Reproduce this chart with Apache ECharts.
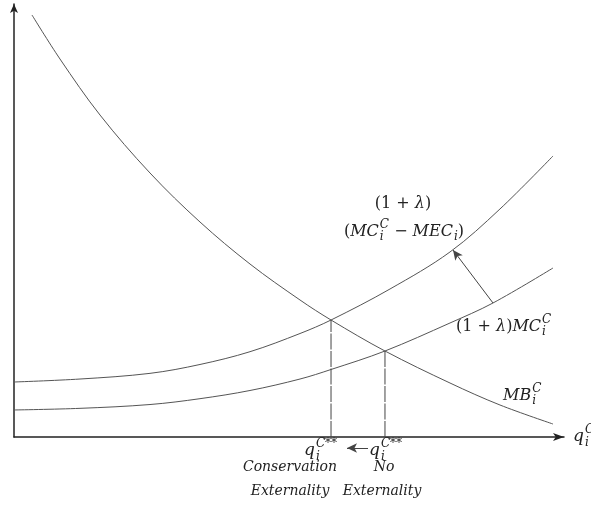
<!DOCTYPE html>
<html>
<head>
<meta charset="utf-8">
<script src="https://cdn.jsdelivr.net/npm/echarts@6/dist/echarts.min.js"></script>
<style>html,body{margin:0;padding:0;background:#fff}#c{width:591px;height:506px}</style>
</head>
<body>
<div id="c"></div>
<script>
// Curves (x: quantity, y: price), arbitrary units 0-100
const mbCurve = [[3.27,97.46],[8.36,87.30],[15.64,74.36],[24.73,60.97],[33.82,49.65],[42.91,39.95],[52.00,31.64],[57.64,27.02],[67.45,19.86],[79.27,12.47],[88.36,7.39],[98.00,3.00]];
const upperCurve = [[0,12.70],[12.00,13.39],[24.73,14.70],[33.82,16.75],[42.91,19.70],[52.00,23.90],[57.64,27.02],[68.36,34.18],[79.27,42.73],[88.36,52.66],[98.00,64.90]];
const lowerCurve = [[0,6.24],[12.00,6.62],[24.73,7.50],[33.82,8.85],[42.91,10.74],[52.00,13.39],[57.64,15.59],[67.45,19.86],[79.27,26.33],[87.09,30.95],[98.00,39.03]];
const qConservation = [57.64, 27.02];
const qNoExternality = [67.45, 19.86];
const shiftArrow = [[87.09,30.95],[79.82,43.19]];

const chart = echarts.init(document.getElementById('c'), null, {renderer:'canvas'});
const FONT = '"DejaVu Serif", serif';
const ctx = document.createElement('canvas').getContext('2d');
function tw(t, size, it){ ctx.font = (it?'italic ':'') + size + 'px ' + FONT; return ctx.measureText(t).width; }
function mathText(tokens, x, y, size, align){
  const ss = Math.round(size*0.72);
  const widths = tokens.map(k => k.t !== undefined ? tw(k.t, size, k.it) :
      Math.max(k.sup ? tw(k.sup, ss, true) : 0, k.sub ? tw(k.sub, ss, true) : 0) + 1);
  const total = widths.reduce((a,b)=>a+b,0);
  let cx = align === 'center' ? x - total/2 : (align === 'right' ? x - total : x);
  const els = [];
  tokens.forEach((k,i) => {
    if (k.t !== undefined) {
      els.push({type:'text', x:cx, y:y, silent:true, style:{text:k.t, fontFamily:FONT, fontSize:size, fontStyle:k.it?'italic':'normal', fill:'#222', align:'left', verticalAlign:'middle'}});
    } else {
      if (k.sup) els.push({type:'text', x:cx+1, y:y-size*0.42, silent:true, style:{text:k.sup, fontFamily:FONT, fontSize:ss, fontStyle:'italic', fill:'#222', align:'left', verticalAlign:'middle'}});
      if (k.sub) els.push({type:'text', x:cx+1, y:y+size*0.32, silent:true, style:{text:k.sub, fontFamily:FONT, fontSize:ss, fontStyle:'italic', fill:'#222', align:'left', verticalAlign:'middle'}});
    }
    cx += widths[i];
  });
  return els;
}
function plain(text, x, y, size){
  return {type:'text', x:x, y:y, silent:true, style:{text:text, fontFamily:FONT, fontSize:size, fontStyle:'italic', fill:'#222', align:'center', verticalAlign:'middle'}};
}

const graphics = [].concat(
  mathText([{t:'(1 + '},{t:'λ',it:true},{t:')'}], 403, 204, 16, 'center'),
  mathText([{t:'('},{t:'MC',it:true},{sup:'C',sub:'i'},{t:' − '},{t:'MEC',it:true},{sub:'i'},{t:')'}], 404, 232, 16, 'center'),
  mathText([{t:'(1 + '},{t:'λ',it:true},{t:')'},{t:'MC',it:true},{sup:'C',sub:'i'}], 456, 327, 16, 'left'),
  mathText([{t:'MB',it:true},{sup:'C',sub:'i'}], 503, 396, 16, 'left'),
  mathText([{t:'q',it:true},{sup:'C',sub:'i'}], 573, 437, 17, 'left'),
  mathText([{t:'q',it:true},{sup:'C**',sub:'i'}], 304, 451, 17, 'left'),
  mathText([{t:'q',it:true},{sup:'C**',sub:'i'}], 369, 451, 17, 'left'),
  [plain('Conservation', 290, 467, 14), plain('No', 384, 467, 14), plain('Externality', 290, 491, 14), plain('Externality', 382, 491, 14)]
);

const curveStyle = {color:'#555', width:1};
chart.setOption({
  animation:false,
  backgroundColor:'#fff',
  grid:{left:14, right:27, top:4, bottom:69, containLabel:false},
  xAxis:{type:'value', min:0, max:100, axisLine:{show:true, lineStyle:{color:'#222', width:1.5}, symbol:['none','arrow'], symbolSize:[6,11]}, axisTick:{show:false}, axisLabel:{show:false}, splitLine:{show:false}},
  yAxis:{type:'value', min:0, max:100, axisLine:{show:true, lineStyle:{color:'#222', width:1.5}, symbol:['none','arrow'], symbolSize:[6,9]}, axisTick:{show:false}, axisLabel:{show:false}, splitLine:{show:false}},
  series:[
    {type:'line', data:mbCurve, smooth:0.35, showSymbol:false, lineStyle:curveStyle, silent:true},
    {type:'line', data:upperCurve, smooth:0.35, showSymbol:false, lineStyle:curveStyle, silent:true},
    {type:'line', data:lowerCurve, smooth:0.35, showSymbol:false, lineStyle:curveStyle, silent:true,
      markLine:{silent:true, symbol:['none','arrow'], symbolSize:[7,10], label:{show:false}, lineStyle:{color:'#444', type:'solid', width:1},
        data:[[{coord:shiftArrow[0]},{coord:shiftArrow[1]}], [{x:368,y:448},{x:347,y:448}]]}},
    {type:'line', data:[[qConservation[0],0],qConservation], showSymbol:false, lineStyle:{color:'#444', width:1, type:[16,1.5]}, silent:true},
    {type:'line', data:[[qNoExternality[0],0],qNoExternality], showSymbol:false, lineStyle:{color:'#444', width:1, type:[16,1.5]}, silent:true}
  ],
  graphic: graphics
});
</script>
</body>
</html>
